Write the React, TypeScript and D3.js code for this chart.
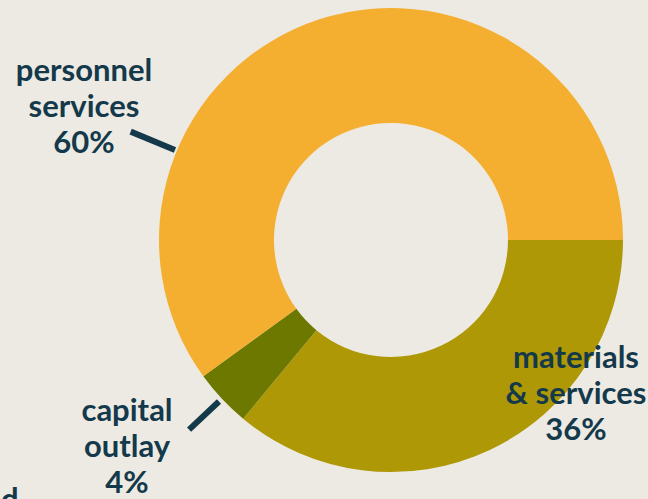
import React from "react";
import * as d3 from "d3";

const categories = ["materials & services", "capital outlay", "personnel services"];
const values = [36, 4, 60];
const colors = ["#AE9805", "#6D7800", "#F4AF30"];
const labelLines = [
  ["materials", "& services", "36%"],
  ["capital", "outlay", "4%"],
  ["personnel", "services", "60%"],
];

const W = 648;
const H = 499;
const cx = 391;
const cy = 240;
const R = 232;
const r0 = 117;
const BG = "#ECEAE3";
const INK = "#14394A";

export default function App() {
  const pie = d3
    .pie<number>()
    .sort(null)
    .startAngle(Math.PI / 2)
    .endAngle(Math.PI / 2 + 2 * Math.PI);
  const arcs = pie(values);
  const arc = d3.arc<d3.PieArcDatum<number>>().innerRadius(r0).outerRadius(R);

  const polar = (a: number, rr: number) => [cx + rr * Math.sin(a), cy - rr * Math.cos(a)];

  const capMid = (arcs[1].startAngle + arcs[1].endAngle) / 2;
  const perAngle = (292.6 * Math.PI) / 180;
  const leaders = [
    { a: capMid, r1: 236, r2: 277 },
    { a: perAngle, r1: 234, r2: 282 },
  ];

  const labelPos = [
    { x: 576, y: 368 },
    { x: 127, y: 421 },
    { x: 84, y: 81 },
  ];
  const lh = 36;
  const fs = 31;

  return (
    <svg
      width={W}
      height={H}
      style={{ position: "absolute", left: 0, top: 0, background: BG, display: "block" }}
    >
      <rect width={W} height={H} fill={BG} />
      <g transform={`translate(${cx},${cy})`}>
        {arcs.map((d, i) => (
          <path key={categories[i]} d={arc(d) || ""} fill={colors[i]} />
        ))}
      </g>
      {leaders.map((l, i) => {
        const [x1, y1] = polar(l.a, l.r1);
        const [x2, y2] = polar(l.a, l.r2);
        return <line key={i} x1={x1} y1={y1} x2={x2} y2={y2} stroke={INK} strokeWidth={6} />;
      })}
      {labelLines.map((lines, i) => (
        <text
          key={categories[i]}
          x={labelPos[i].x}
          y={labelPos[i].y}
          textAnchor="middle"
          fontFamily="Lato, sans-serif"
          fontWeight={700}
          fontSize={fs}
          fill={INK}
        >
          {lines.map((t, j) => (
            <tspan key={j} x={labelPos[i].x} y={labelPos[i].y + j * lh}>
              {t}
            </tspan>
          ))}
        </text>
      ))}
      <text x={1} y={510} fontFamily="Lato, sans-serif" fontWeight={700} fontSize={fs} fill={INK}>
        d
      </text>
    </svg>
  );
}
